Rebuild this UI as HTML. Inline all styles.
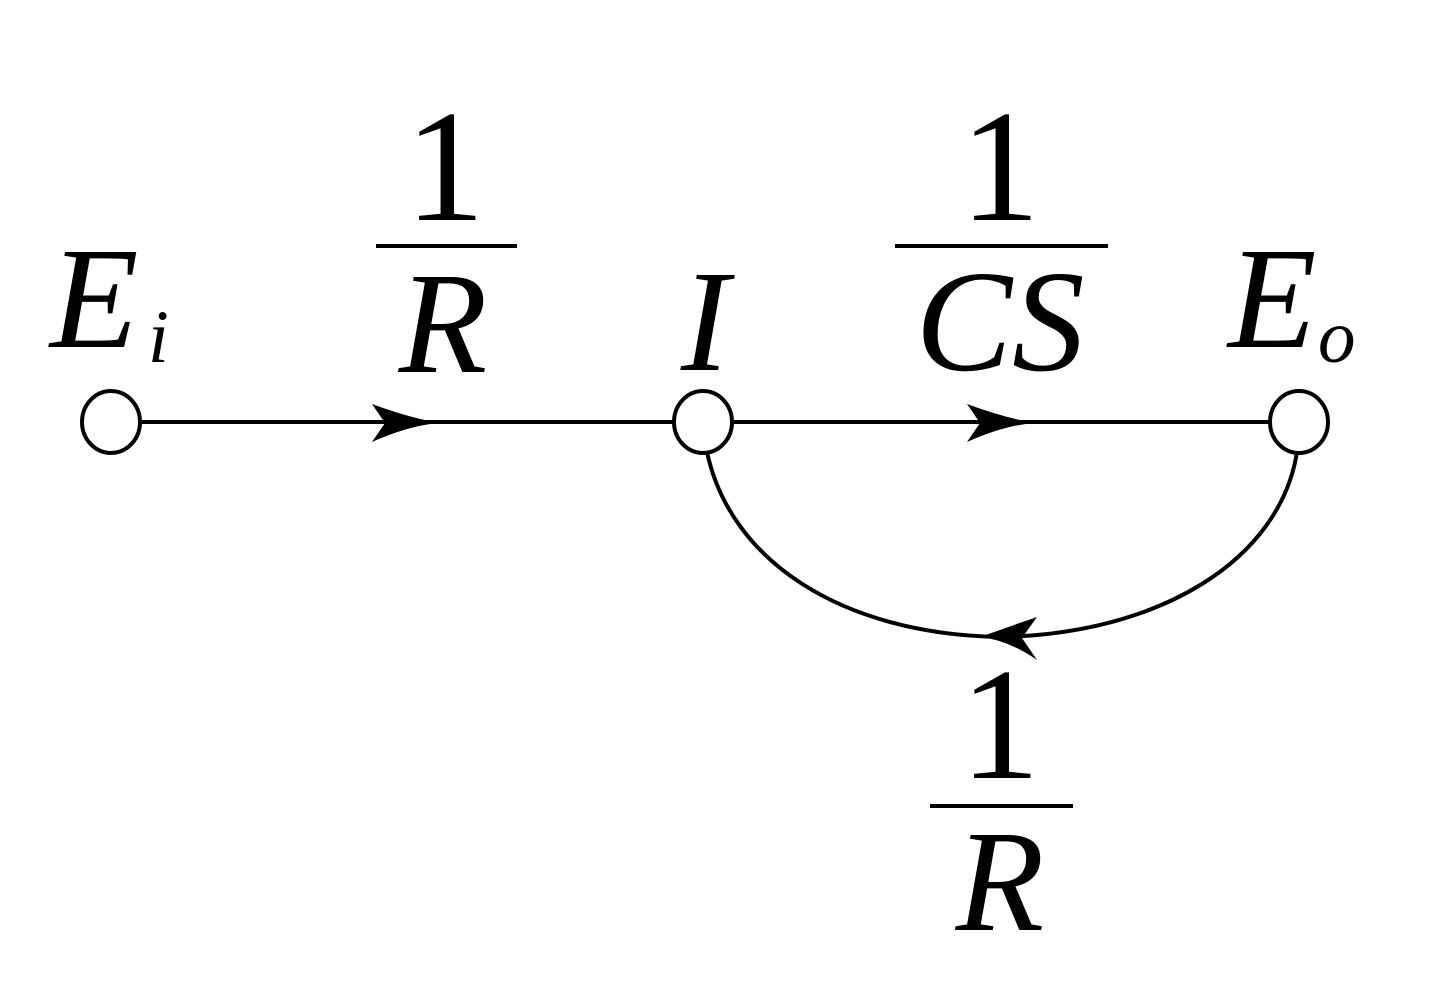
<!DOCTYPE html>
<html><head><meta charset="utf-8"><style>html,body{margin:0;padding:0;background:#fff;}svg{display:block}
text{font-family:"Liberation Serif","Times New Roman",serif;}</style></head>
<body>
<svg width="1441" height="1000" viewBox="0 0 1441 1000" xmlns="http://www.w3.org/2000/svg">
<g stroke="#000" stroke-width="4" fill="none">
<line x1="141" y1="422" x2="673" y2="422"/>
<line x1="733" y1="422" x2="1269" y2="422"/>
<path d="M707,452 C730,560 840,634 1000,637 C1160,634 1280,560 1297,452"/>
<ellipse cx="111" cy="422" rx="29" ry="31" fill="#fff"/>
<ellipse cx="703" cy="422" rx="29" ry="31" fill="#fff"/>
<ellipse cx="1299" cy="422" rx="29" ry="31" fill="#fff"/>
<line x1="376" y1="246" x2="517" y2="246"/>
<line x1="895" y1="246" x2="1108" y2="246"/>
<line x1="930" y1="806" x2="1073" y2="806"/>
</g>
<g fill="#000">
<path d="M372,404 Q410,418 440,423 Q410,425 372,442 L385,423 Z"/>
<path d="M967,404 Q1005,418 1035,423 Q1005,425 967,442 L980,423 Z"/>
<path d="M1037,617 Q1008,627 980,637 Q1008,640 1037,660 L1022,638 Z"/>
</g>
<g fill="#000">
<text x="445" y="220" font-size="160" text-anchor="middle">1</text>
<text x="1000" y="220" font-size="160" text-anchor="middle">1</text>
<text x="1000" y="778" font-size="160" text-anchor="middle">1</text>
<g font-style="italic" font-size="145">
<text x="443" y="372" text-anchor="middle">R</text>
<text x="1000" y="930" text-anchor="middle">R</text>
<text x="1000" y="370" text-anchor="middle">CS</text>
<text x="705" y="370" text-anchor="middle">I</text>
<text x="50" y="347">E</text>
<text x="1228" y="347">E</text>
<text x="148" y="362" font-size="75">i</text>
<text x="1318" y="362" font-size="75">o</text>
</g>
</g>
</svg>
</body></html>
